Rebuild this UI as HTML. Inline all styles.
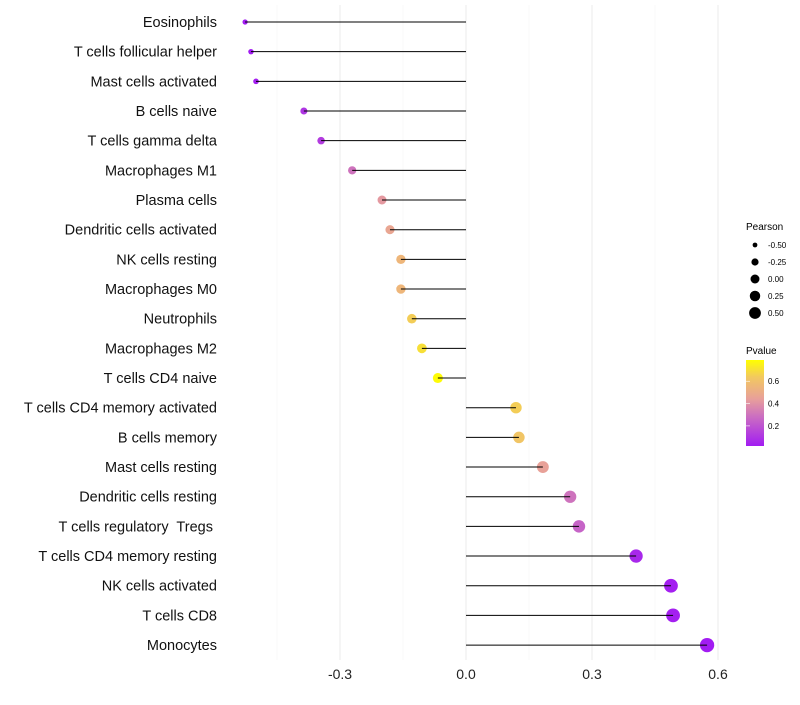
<!DOCTYPE html>
<html><head><meta charset="utf-8"><style>
body{margin:0;background:#fff;font-family:"Liberation Sans",sans-serif}
svg text{font-family:"Liberation Sans",sans-serif;white-space:pre}
</style></head><body>
<svg id="c" width="800" height="700">
<defs><linearGradient id="pg" x1="0" y1="1" x2="0" y2="0">
<stop offset="0" stop-color="#A21CF2"/><stop offset="0.35" stop-color="#CC70C0"/><stop offset="0.55" stop-color="#E8A09A"/><stop offset="0.8" stop-color="#F2C860"/><stop offset="1" stop-color="#FFFF00"/></linearGradient></defs>
<g id="grid"></g><g id="points"></g><g id="marks"></g><g id="labels"></g><g id="legend"></g>
</svg>
<script>
const categories=["Eosinophils","T cells follicular helper","Mast cells activated","B cells naive","T cells gamma delta","Macrophages M1","Plasma cells","Dendritic cells activated","NK cells resting","Macrophages M0","Neutrophils","Macrophages M2","T cells CD4 naive","T cells CD4 memory activated","B cells memory","Mast cells resting","Dendritic cells resting","T cells regulatory  Tregs ","T cells CD4 memory resting","NK cells activated","T cells CD8","Monocytes"];
const pearson=[-0.526,-0.512,-0.5,-0.386,-0.345,-0.271,-0.2,-0.181,-0.155,-0.155,-0.129,-0.105,-0.067,0.119,0.126,0.183,0.248,0.269,0.405,0.488,0.493,0.574];
const pvalue=[0.01,0.02,0.03,0.1,0.12,0.3,0.42,0.47,0.55,0.55,0.65,0.7,0.78,0.65,0.62,0.45,0.3,0.25,0.06,0.03,0.03,0.01];
const xTicks=[-0.3,0,0.3,0.6];
const xTickLabels=["-0.3","0.0","0.3","0.6"];
const sizeLegend=[-0.5,-0.25,0,0.25,0.5];
const colorTicks=[0.2,0.4,0.6];
const NS="http://www.w3.org/2000/svg";
const x=v=>466+v*420;
const y=i=>22+i*29.67;
const r=v=>Math.sqrt(Math.max(1,27.9+40*v));
const cy=v=>446-(v-0.02)/(0.79-0.02)*86;
function lerp(a,b,t){return a.map((c,i)=>Math.round(c+(b[i]-c)*t));}
function col(p){const t=Math.max(0,Math.min(1,(p-0.02)/0.77));
 const s=[[0,[162,28,242]],[0.35,[204,112,192]],[0.55,[232,160,154]],[0.8,[242,200,96]],[1,[255,255,0]]];
 for(let k=1;k<s.length;k++)if(t<=s[k][0]){const u=(t-s[k-1][0])/(s[k][0]-s[k-1][0]);const c=lerp(s[k-1][1],s[k][1],u);return `rgb(${c})`;}
 return "rgb(255,255,0)";}
function mk(tag,attrs,parent,text){const e=document.createElementNS(NS,tag);for(const k in attrs)e.setAttribute(k,attrs[k]);if(text!==undefined)e.textContent=text;document.getElementById(parent).appendChild(e);return e;}
[-0.45,-0.15,0.15,0.45].forEach(v=>{const g=mk('line',{x1:x(v),x2:x(v),y1:5,y2:660,stroke:'#f3f3f3','stroke-width':0.6},'grid');

});
xTicks.forEach((v,i)=>{const g=mk('line',{x1:x(v),x2:x(v),y1:5,y2:660,stroke:'#ebebeb','stroke-width':1},'grid');


const t=mk('text',{x:x(v),y:679,'text-anchor':'middle','font-size':14,fill:'#222'},'labels',xTickLabels[i]);

});
categories.forEach((c,i)=>{
 const d=mk('circle',{cx:x(pearson[i]),cy:y(i),r:r(pearson[i]),fill:col(pvalue[i])},'points');
 
 
 const l=mk('line',{x1:x(0),x2:x(pearson[i]),y1:y(i),y2:y(i),stroke:'#000','stroke-width':1},'marks');
 
 
 const t=mk('text',{x:217,y:y(i)+5,'text-anchor':'end','font-size':14.5,fill:'#111'},'labels',c);
 
 });
let t=mk('text',{x:746,y:230,'font-size':10},'legend','Pearson');


sizeLegend.forEach((v,i)=>{const yy=245+i*17;
 const d=mk('circle',{cx:755,cy:yy,r:r(v)*0.85,fill:'#000'},'legend');
 
 
 const tt=mk('text',{x:768,y:yy+3,'font-size':8},'legend',v.toFixed(2));
 
 });
t=mk('text',{x:746,y:354,'font-size':10},'legend','Pvalue');


const bar=mk('rect',{x:746,y:360,width:18,height:86,fill:'url(#pg)'},'legend');


colorTicks.forEach(v=>{const tt=mk('text',{x:768,y:cy(v)+3,'font-size':8},'legend',v.toFixed(1));
 
 
 const tk=mk('line',{x1:746,x2:750,y1:cy(v),y2:cy(v),stroke:'#fff','stroke-width':0.6},'legend');
 
 });
</script>
</body></html>
